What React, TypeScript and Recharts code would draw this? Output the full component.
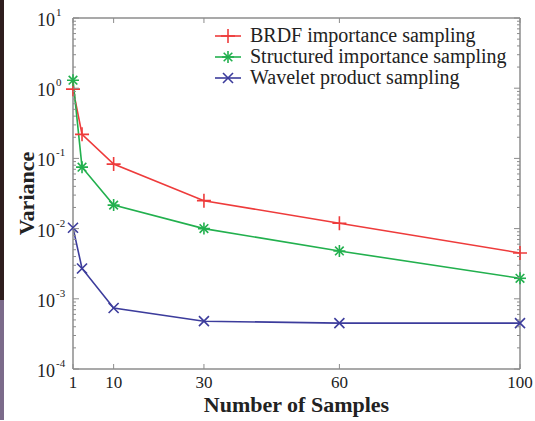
import React from 'react';
import { LineChart, Line, XAxis, YAxis, Legend } from 'recharts';

// values (log y axis)
const samples = [1, 3, 10, 30, 60, 100];
const brdf = [0.97, 0.22, 0.083, 0.025, 0.0119, 0.0045];
const structured = [1.3, 0.075, 0.0216, 0.01, 0.0048, 0.00196];
const wavelet = [0.0103, 0.0027, 0.00074, 0.00048, 0.00045, 0.00045];

const seriesNames = [
  'BRDF importance sampling',
  'Structured importance sampling',
  'Wavelet product sampling',
];

const xTicks = [1, 10, 30, 60, 100];
const yExponents = [-4, -3, -2, -1, 0, 1];

const FONT = '"Liberation Serif", "Times New Roman", serif';
const FRAME = '#8c8c8c';
const TEXT = '#222';
const RED = '#ee3b3b';
const GREEN = '#22b04e';
const BLUE = '#3c3c9c';

const data = samples.map((s, i) => ({
  samples: s,
  brdf: brdf[i],
  structured: structured[i],
  wavelet: wavelet[i],
}));

const majorTicks = yExponents.map((e) => Math.pow(10, e));
const minorTicks: number[] = [];
yExponents.slice(0, -1).forEach((e) => {
  for (let j = 2; j <= 9; j++) minorTicks.push(j * Math.pow(10, e));
});
const yTicks = [...majorTicks, ...minorTicks].sort((a, b) => a - b);

const isMajor = (v: number) => Math.abs(Math.log10(v) - Math.round(Math.log10(v))) < 1e-6;

const PlusMark = ({ cx, cy, color }: any) => (
  <g stroke={color} strokeWidth={1.6}>
    <line x1={cx - 7} x2={cx + 7} y1={cy} y2={cy} />
    <line x1={cx} x2={cx} y1={cy - 7} y2={cy + 7} />
  </g>
);

const StarMark = ({ cx, cy, color }: any) => (
  <g stroke={color} strokeWidth={1.6}>
    <line x1={cx - 6} x2={cx + 6} y1={cy} y2={cy} />
    <line x1={cx} x2={cx} y1={cy - 6} y2={cy + 6} />
    <line x1={cx - 4.3} x2={cx + 4.3} y1={cy - 4.3} y2={cy + 4.3} />
    <line x1={cx - 4.3} x2={cx + 4.3} y1={cy + 4.3} y2={cy - 4.3} />
  </g>
);

const CrossMark = ({ cx, cy, color }: any) => (
  <g stroke={color} strokeWidth={1.6}>
    <line x1={cx - 5} x2={cx + 5} y1={cy - 5} y2={cy + 5} />
    <line x1={cx - 5} x2={cx + 5} y1={cy + 5} y2={cy - 5} />
  </g>
);

const markers = [PlusMark, StarMark, CrossMark];
const colors = [RED, GREEN, BLUE];

const LeftTick = ({ x, y, payload }: any) => {
  const v = payload.value;
  const major = isMajor(v);
  const exp = Math.round(Math.log10(v));
  return (
    <g>
      <line x1={x} x2={x + (major ? 6 : 3)} y1={y} y2={y} stroke={FRAME} strokeWidth={1} />
      {major && (
        <g fontFamily={FONT} fill={TEXT}>
          <text x={x - 18} y={y + 8} textAnchor="end" fontSize={18}>10</text>
          <text x={x - 17} y={y - 2} fontSize={11}>{exp < 0 ? '-' + Math.abs(exp) : String(exp)}</text>
        </g>
      )}
    </g>
  );
};

const RightTick = ({ x, y, payload }: any) => {
  const major = isMajor(payload.value);
  return <line x1={x} x2={x - (major ? 6 : 3)} y1={y} y2={y} stroke={FRAME} strokeWidth={1} />;
};

const BottomTick = ({ x, y, payload }: any) => (
  <g>
    <line x1={x} x2={x} y1={y} y2={y - 5} stroke={FRAME} strokeWidth={1} />
    <text x={x} y={y + 19} textAnchor="middle" fontSize={17} fontFamily={FONT} fill={TEXT}>
      {payload.value}
    </text>
  </g>
);

const TopTick = ({ x, y }: any) => (
  <line x1={x} x2={x} y1={y} y2={y + 5} stroke={FRAME} strokeWidth={1} />
);

const renderLegend = () => (
  <div style={{ fontFamily: FONT, fontSize: 20, color: TEXT }}>
    {seriesNames.map((n, i) => {
      const M = markers[i];
      return (
        <div key={n} style={{ display: 'flex', alignItems: 'center', height: 21 }}>
          <svg width={26} height={16} style={{ overflow: 'visible' }}>
            <line x1={0} x2={26} y1={8} y2={8} stroke={colors[i]} strokeWidth={1.6} />
            <M cx={13} cy={8} color={colors[i]} />
          </svg>
          <span style={{ marginLeft: 9, lineHeight: '21px' }}>{n}</span>
        </div>
      );
    })}
  </div>
);

const keys = ['brdf', 'structured', 'wavelet'];

export default function App() {
  return (
    <div style={{ position: 'fixed', left: 0, top: 0, width: 535, height: 421, background: '#fff' }}>
      <div style={{ position: 'absolute', left: 0, top: 0, width: 4, height: 300, background: '#2e1d1e' }} />
      <div style={{ position: 'absolute', left: 0, top: 300, width: 4, height: 120, background: '#7b6b8a' }} />
      <LineChart width={535} height={421} data={data} margin={{ top: 0, right: 0, bottom: 0, left: 0 }}>
        <XAxis
          dataKey="samples"
          type="number"
          domain={[1, 100]}
          ticks={xTicks}
          interval={0}
          height={52}
          tickSize={0}
          tickMargin={0}
          tickLine={false}
          tick={<BottomTick />}
          axisLine={{ stroke: FRAME, strokeWidth: 1.5 }}
          label={{ value: 'Number of Samples', position: 'center', dy: 9, fontFamily: FONT, fontSize: 22, fontWeight: 'bold', fill: TEXT }}
        />
        <XAxis
          xAxisId="top"
          orientation="top"
          dataKey="samples"
          type="number"
          domain={[1, 100]}
          ticks={xTicks}
          interval={0}
          height={18}
          tickSize={0}
          tickMargin={0}
          tickLine={false}
          tick={<TopTick />}
          axisLine={{ stroke: FRAME, strokeWidth: 1.5 }}
        />
        <YAxis
          type="number"
          scale="log"
          domain={[1e-4, 10]}
          allowDataOverflow
          ticks={yTicks}
          interval={0}
          width={73}
          tickSize={0}
          tickMargin={0}
          tickLine={false}
          tick={<LeftTick />}
          axisLine={{ stroke: FRAME, strokeWidth: 1.5 }}
          label={{ value: 'Variance', angle: -90, position: 'center', dx: -10, fontFamily: FONT, fontSize: 22, fontWeight: 'bold', fill: TEXT }}
        />
        <YAxis
          yAxisId="right"
          orientation="right"
          type="number"
          scale="log"
          domain={[1e-4, 10]}
          allowDataOverflow
          ticks={yTicks}
          interval={0}
          width={15}
          tickSize={0}
          tickMargin={0}
          tickLine={false}
          tick={<RightTick />}
          axisLine={{ stroke: FRAME, strokeWidth: 1.5 }}
        />
        <Legend
          layout="horizontal"
          verticalAlign="middle"
          align="center"
          content={renderLegend}
          wrapperStyle={{ top: 25, left: 215, width: 315 }}
        />
        {keys.map((k, i) => {
          const M = markers[i];
          return (
            <Line
              key={k}
              dataKey={k}
              name={seriesNames[i]}
              stroke={colors[i]}
              strokeWidth={1.6}
              isAnimationActive={false}
              dot={(p: any) => <M key={k + p.index} cx={p.cx} cy={p.cy} color={colors[i]} />}
              activeDot={false}
            />
          );
        })}
      </LineChart>
    </div>
  );
}
